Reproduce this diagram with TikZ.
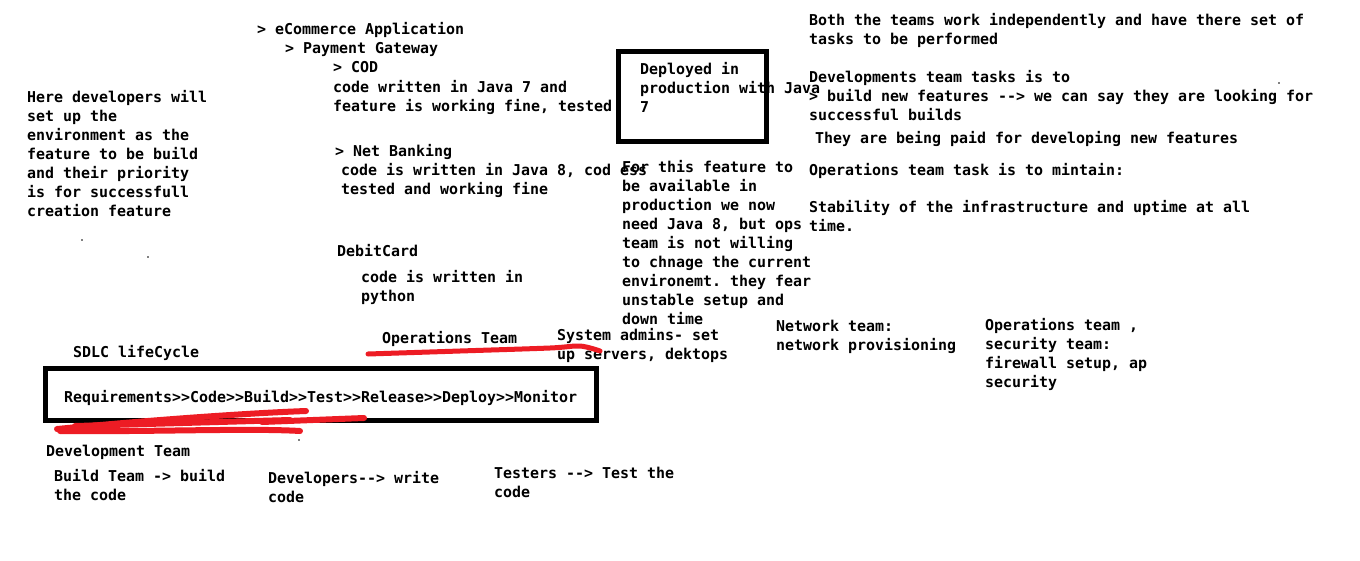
\documentclass[tikz,border=0pt]{standalone}
\usepackage{fontspec}
\setmonofont{DejaVu Sans Mono}
\definecolor{paintred}{RGB}{237,28,36}
\newcommand{\notefont}{\ttfamily\bfseries\fontsize{14.95}{19}\selectfont}
\begin{document}
\begin{tikzpicture}[x=1pt, y=-1pt,
    note/.style={anchor=north west, yshift=11.8pt, inner sep=0pt, align=left, font=\notefont, execute at begin node=\strut},
    frame/.style={draw, line width=5pt},
    scribble/.style={draw=paintred, line width=5pt, line cap=round, line join=round}]
        \useasboundingbox[fill=white] (0,0) rectangle (1360,560);

        % Application and its features
        \node[note] (app) at (257,33) {> eCommerce Application};
        \node[note] (gateway) at (285,52) {> Payment Gateway};
        \node[note] (cod) at (333,71) {> COD};
        \node[note] (codtext) at (333,92) {code written in Java 7 and\\feature is working fine, tested};
        \node[note] (netbank) at (335,155) {> Net Banking};
        \node[note] (nettext) at (341,175) {code is written in Java 8, cod ess\\tested and working fine};
        \node[note] (debit) at (337,255) {DebitCard};
        \node[note] (debittext) at (361,282) {code is written in\\python};

        % Developers setup note
        \node[note] (devsetup) at (27,102) {Here developers will\\set up the\\environment as the\\feature to be build\\and their priority\\is for successfull\\creation feature};

        % Deployed box and the Java 8 problem
        \draw[frame] (618.8,51) rectangle (766,141.7);
        \node[note] (deployed) at (640,74) {Deployed in\\production with Java\\7};
        \node[note] (problem) at (622,172) {For this feature to\\be available in\\production we now\\need Java 8, but ops\\team is not willing\\to chnage the current\\environemt. they fear\\unstable setup and\\down time};

        % Teams and their tasks
        \node[note] (both) at (809,25) {Both the teams work independently and have there set of\\tasks to be performed};
        \node[note] (devtasks) at (809,82) {Developments team tasks is to\\> build new features --> we can say they are looking for\\successful builds};
        \node[note] (paid) at (815,142) {They are being paid for developing new features};
        \node[note] (opstask) at (809,174) {Operations team task is to mintain:};
        \node[note] (stability) at (809,212) {Stability of the infrastructure and uptime at all\\time.};

        % Operations team
        \node[note] (opsteam) at (382,342) {Operations Team};
        \node[note] (sysadmin) at (557,340) {System admins- set\\up servers, dektops};
        \node[note] (network) at (776,332) {Network team:\\network provisioning};
        \node[note] (security) at (985,330) {Operations team ,\\security team:\\firewall setup, ap\\security};
        \draw[scribble] plot[smooth] coordinates {(368,354) (460,351) (550,348) (580,346) (600,351)};

        % SDLC lifecycle
        \node[note] (sdlc) at (73,356) {SDLC lifeCycle};
        \draw[frame] (45,368.3) rectangle (596.7,420.8);
        \node[note] (phases) at (64,401) {Requirements>>Code>>Build>>Test>>Release>>Deploy>>Monitor};

        % Development team
        \draw[scribble, line width=6pt] (57,429) .. controls (150,420) and (250,413) .. (306,411);
        \draw[scribble, line width=6pt] (60,431) .. controls (150,432) and (250,428) .. (300,431);
        \draw[scribble, line width=6pt] (75,426) -- (290,420);
        \draw[scribble, line width=6pt] (262,422) -- (364,418);
        \node[note] (devteam) at (46,455) {Development Team};
        \node[note] (buildteam) at (54,481) {Build Team -> build\\the code};
        \node[note] (developers) at (268,483) {Developers--> write\\code};
        \node[note] (testers) at (494,479) {Testers --> Test the\\code};

        % Stray dots
        \foreach \px/\py in {82/240, 148/257, 299/440, 1279/83}
            \fill (\px,\py) circle (0.9pt);
    \end{tikzpicture}
\end{document}
